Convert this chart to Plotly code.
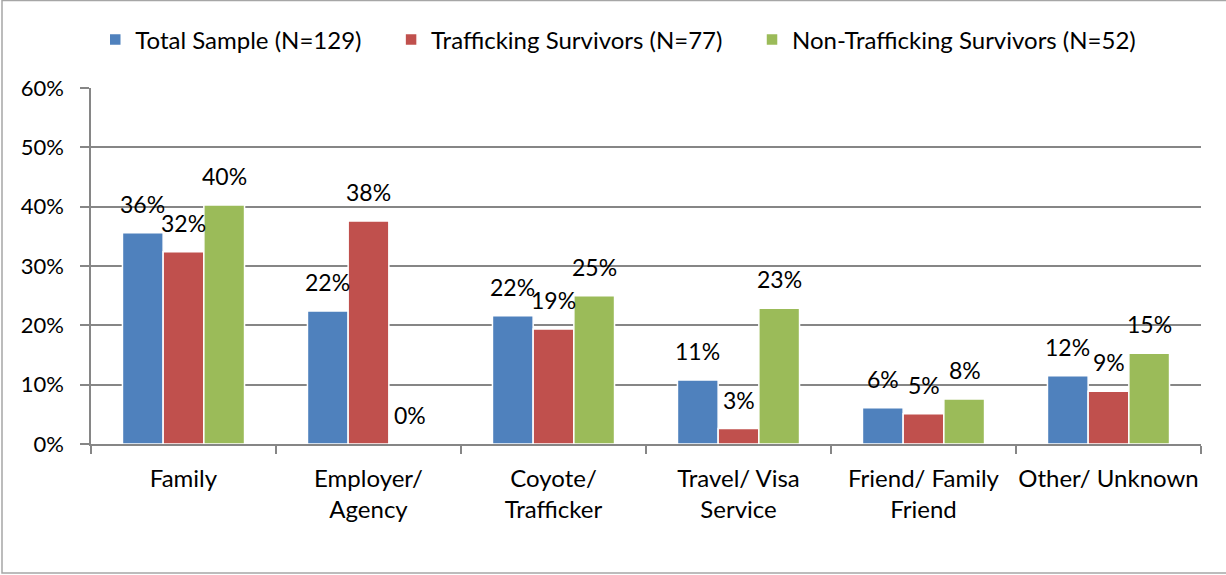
import plotly.graph_objects as go

categories = ["Family", "Employer/<br>Agency", "Coyote/<br>Trafficker", "Travel/ Visa<br>Service",
              "Friend/ Family<br>Friend", "Other/ Unknown"]
series_names = ["Total Sample (N=129)", "Trafficking Survivors (N=77)", "Non-Trafficking Survivors (N=52)"]
total = [35.6, 22.4, 21.6, 10.8, 6.1, 11.5]
trafficking = [32.4, 37.6, 19.4, 2.6, 5.1, 8.9]
non_trafficking = [40.3, 0.0, 25.0, 22.9, 7.6, 15.3]
colors = ["#4F81BD", "#C0504D", "#9BBB59"]

W, H = 1226, 575
L, R, T, B = 91, 25, 88, 131
FONT = "Lato"

fig = go.Figure()
all_series = [total, trafficking, non_trafficking]
pad = "\u00a0" * 4
for i, (name, vals, col) in enumerate(zip(series_names, all_series, colors)):
    label = name + (pad if i < len(series_names) - 1 else "")
    fig.add_trace(go.Bar(x=categories, y=vals, name=label, marker_color=col,
                         marker_line_color="white", marker_line_width=1.5))

offsets = [-41, 0, 41]
for vals, off in zip(all_series, offsets):
    for c, v in zip(categories, vals):
        fig.add_annotation(x=c, y=v, xshift=off, yshift=13, text=f"{round(v)}%",
                           showarrow=False, yanchor="bottom",
                           font=dict(size=23, color="black", family=FONT))

pw = W - L - R
ph = H - T - B
fig.add_shape(type="rect", xref="paper", yref="paper",
              x0=(2 - L) / pw, x1=(1235 - L) / pw,
              y0=(H - 573 - B) / ph, y1=(H - 0.5 - B) / ph,
              line=dict(color="#A6A6A6", width=1.5), layer="below")

fig.update_layout(
    width=W, height=H,
    margin=dict(l=L, r=R, t=T, b=B, autoexpand=False),
    paper_bgcolor="white", plot_bgcolor="white",
    barmode="group", bargap=0.34, bargroupgap=0,
    font=dict(family=FONT, size=23, color="black"),
    legend=dict(orientation="h", x=0.475, xanchor="center", y=(444 - 40) / ph, yanchor="middle",
                font=dict(size=24, family=FONT), itemwidth=30, tracegroupgap=0),
    xaxis=dict(showline=True, linecolor="#868686", linewidth=1.5, automargin=False,
               ticks="outside", tickson="boundaries", ticklen=8, tickcolor="#868686",
               tickwidth=1.5, tickfont=dict(size=24, family=FONT), ticklabelstandoff=12,
               tickangle=0),
    yaxis=dict(range=[0, 60], dtick=10, ticksuffix="%", showgrid=True, automargin=False,
               gridcolor="#868686", gridwidth=1.5, showline=True, linecolor="#868686",
               linewidth=1.5, ticks="outside", ticklen=9, tickcolor="#868686",
               tickwidth=1.5, tickfont=dict(size=22, family=FONT), zeroline=False,
               ticklabelstandoff=12),
)
fig.write_html("out.html", config={"displayModeBar": False},
               post_script="document.body.style.margin='0px';document.body.style.overflow='hidden';")
